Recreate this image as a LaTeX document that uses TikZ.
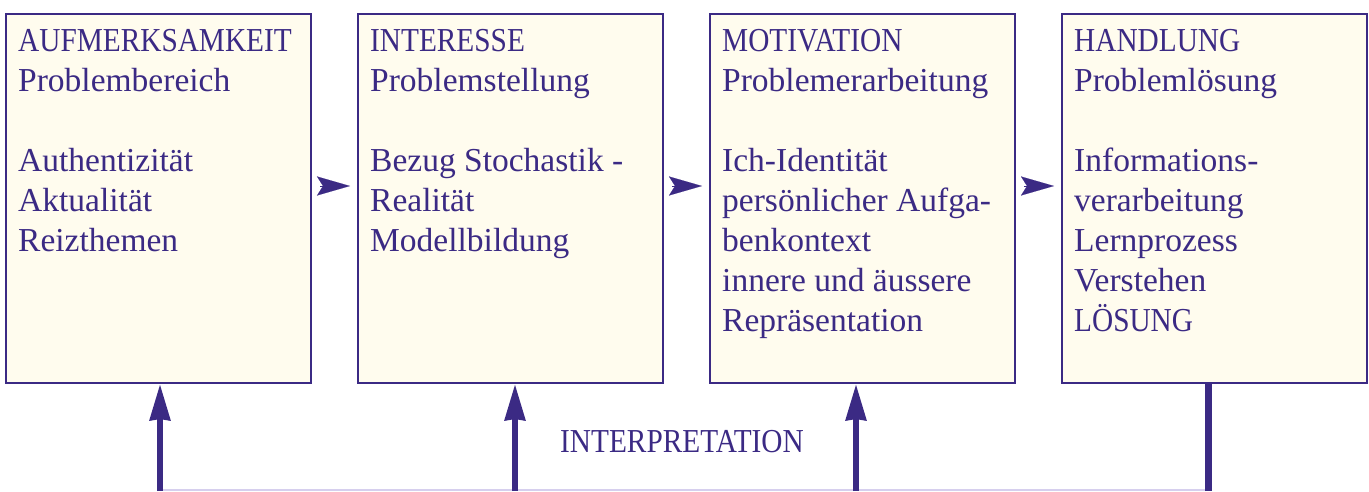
\documentclass[tikz,border=0pt]{standalone}
\usepackage{graphicx}
\usepackage{fontspec}
\setmainfont{Liberation Serif}
\usetikzlibrary{arrows.meta}
\definecolor{pur}{HTML}{3B2A84}
\definecolor{cream}{HTML}{FFFCEE}
\definecolor{lav}{HTML}{D6CFEE}
\newcommand\capsline[1]{\strut\scalebox{0.875}[1]{#1}}
\tikzset{
  stagebox/.style={draw=pur, line width=2pt, fill=cream, minimum width=305pt, minimum height=369pt, inner sep=0pt, anchor=north west},
  stagetext/.style={anchor=north west, align=left, text=pur, inner sep=0pt, font=\fontsize{33.5}{40}\selectfont},
  nextarrow/.style={line width=0.1pt, pur, -{Stealth[length=33pt, width=19pt, inset=6pt]}},
  uparrow/.style={line width=6pt, pur, -{Stealth[length=36pt, width=20pt, inset=1pt]}},
}
\begin{document}
\begin{tikzpicture}[x=1pt,y=1pt]
\useasboundingbox (0,0) rectangle (1369,491);
\node[stagebox] (box1) at (5,478) {};
\node[stagebox] (box2) at (357,478) {};
\node[stagebox] (box3) at (709,478) {};
\node[stagebox] (box4) at (1061,478) {};
\node[stagetext] (t1) at (18,468) {\capsline{AUFMERKSAMKEIT}\\Problembereich\\[40pt]Authentizität\\Aktualität\\Reizthemen};
\node[stagetext] (t2) at (370,468) {\capsline{INTERESSE}\\Problemstellung\\[40pt]Bezug Stochastik -\\Realität\\Modellbildung};
\node[stagetext] (t3) at (722,468) {\capsline{MOTIVATION}\\Problemerarbeitung\\[40pt]Ich-Identität\\persönlicher Aufga-\\benkontext\\innere und äussere\\Repräsentation};
\node[stagetext] (t4) at (1074,468) {\capsline{HANDLUNG}\\Problemlösung\\[40pt]Informations-\\verarbeitung\\Lernprozess\\Verstehen\\\capsline{LÖSUNG}};
\node[stagetext] (interp) at (560,67) {\capsline{INTERPRETATION}};
% horizontal arrows
\coordinate (a1s) at (320,305);
\coordinate (a1e) at (350,305);
\coordinate (a2s) at (672,305);
\coordinate (a2e) at (702,305);
\coordinate (a3s) at (1024,305);
\coordinate (a3e) at (1054,305);
\draw[nextarrow] (a1s) -- (a1e);
\draw[nextarrow] (a2s) -- (a2e);
\draw[nextarrow] (a3s) -- (a3e);
% bottom feedback
\coordinate (b1) at (160,0);
\coordinate (b2) at (515,0);
\coordinate (b3) at (856,0);
\coordinate (b4) at (1208,0);
\coordinate (l1) at (160,1);
\coordinate (l4) at (1208,1);
\draw[lav, line width=2pt] (l1) -- (l4);
\draw[uparrow] (b1) -- (b1 |- box1.south);
\draw[uparrow] (b2) -- (b2 |- box2.south);
\draw[uparrow] (b3) -- (b3 |- box3.south);
\draw[pur, line width=7pt] (b4) -- (b4 |- box4.south);
\end{tikzpicture}
\end{document}
